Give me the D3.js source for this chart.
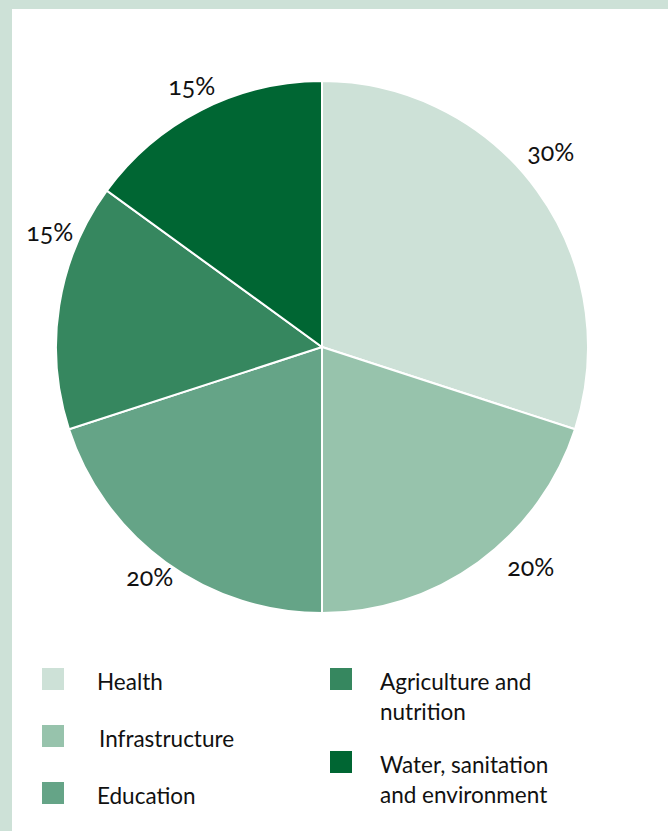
<!DOCTYPE html>
<html>
<head>
<meta charset="utf-8">
<script src="https://cdn.jsdelivr.net/npm/d3@7"></script>
<style>
  body { margin: 0; background: #fff; }
  text { font-family: "Lato", "Open Sans", sans-serif; fill: #111; }
  .pct { font-variant-numeric: oldstyle-nums; }
</style>
</head>
<body>
<script>
const width = 668;
const height = 831;

// Data
const sectors = ['Health', 'Infrastructure', 'Education', 'Agriculture and nutrition', 'Water, sanitation and environment'];
const shares = [30, 20, 20, 15, 15];
const colors = ['#cde1d7', '#97c3ac', '#65a487', '#36875f', '#006633'];
const legendLines = [['Health'], ['Infrastructure'], ['Education'], ['Agriculture and', 'nutrition'], ['Water, sanitation', 'and environment']];

// where each percent label sits (degrees clockwise from top, distance from centre)
const labelAngles = [49.7, 136.6, 216.7, 292.7, 333.4];
const labelRadii = [300, 304, 288, 295, 291];

const cx = 322;
const cy = 347;
const radius = 266;

const svg = d3.select('body')
  .append('svg')
  .attr('width', width)
  .attr('height', height);

// frame
svg.append('rect')
  .attr('width', width)
  .attr('height', height)
  .attr('fill', '#cde1d7');
svg.append('rect')
  .attr('x', 12)
  .attr('y', 9)
  .attr('width', width - 12)
  .attr('height', height - 9)
  .attr('fill', '#fff');

const pie = d3.pie().sort(null).value(d => d);
const arc = d3.arc().innerRadius(0).outerRadius(radius);

const g = svg.append('g')
  .attr('transform', `translate(${cx},${cy})`);

g.selectAll('path')
  .data(pie(shares))
  .enter()
  .append('path')
  .attr('d', arc)
  .attr('fill', (d, i) => colors[i])
  .attr('stroke', '#fff')
  .attr('stroke-width', 2);

// percent labels
g.selectAll('text.pct')
  .data(shares)
  .enter()
  .append('text')
  .attr('class', 'pct')
  .attr('transform', (d, i) => {
    const a = labelAngles[i] * Math.PI / 180;
    const r = labelRadii[i];
    const p = d3.arc().innerRadius(r).outerRadius(r).centroid({ startAngle: a, endAngle: a });
    return `translate(${p[0]},${p[1] - 2})`;
  })
  .attr('text-anchor', 'middle')
  .attr('dominant-baseline', 'central')
  .style('font-size', '25px')
  .text(d => d + '%');

// legend
const legendX = d3.scaleOrdinal().domain([0, 1]).range([42, 330]);
const legendRows = [[0, 0], [0, 1], [0, 2], [1, 0], [1, 1.456]];
const legendY = d3.scaleLinear().domain([0, 1]).range([668, 725]);

const legend = svg.append('g')
  .selectAll('g')
  .data(sectors)
  .enter()
  .append('g')
  .attr('transform', (d, i) => `translate(${legendX(legendRows[i][0])},${legendY(legendRows[i][1])})`);

legend.append('rect')
  .attr('width', 22)
  .attr('height', 22)
  .attr('fill', (d, i) => colors[i]);

legend.append('text')
  .attr('x', (d, i) => legendRows[i][0] === 0 ? (i === 1 ? 57 : 55) : 50)
  .attr('y', 22)
  .style('font-size', '22.5px')
  .selectAll('tspan')
  .data((d, i) => legendLines[i])
  .enter()
  .append('tspan')
  .attr('x', function () { return d3.select(this.parentNode).attr('x'); })
  .attr('dy', (d, j) => j === 0 ? 0 : 30)
  .text(d => d);
</script>
</body>
</html>
